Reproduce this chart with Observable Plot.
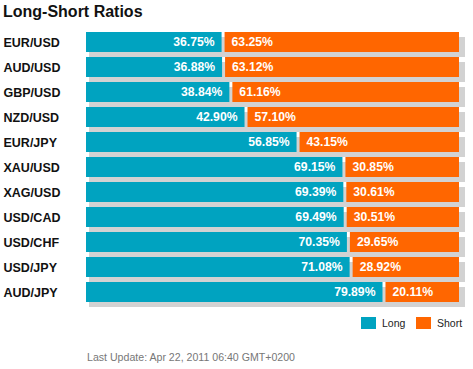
<!DOCTYPE html>
<html>
<head>
<meta charset="utf-8">
<script src="https://cdn.jsdelivr.net/npm/d3@7"></script>
<script src="https://cdn.jsdelivr.net/npm/@observablehq/plot@0.6"></script>
<style>
  html, body { margin: 0; padding: 0; background: #fff; }
  body { width: 473px; height: 369px; position: relative; overflow: hidden; font-family: "Liberation Sans", Arial, sans-serif; }
  #title { position: absolute; left: 3px; top: 3px; font-size: 16px; font-weight: bold; color: #111; line-height: 18px; }
  #chart { position: absolute; left: 0; top: 0; }
  .sw { position: absolute; width: 15px; height: 12px; }
  .lg { position: absolute; font-size: 10.5px; color: #222; line-height: 12px; }
  #footer { position: absolute; left: 87px; top: 351px; font-size: 10.6px; color: #777; line-height: 12px; }
</style>
</head>
<body>
<div id="chart"></div>
<div id="title">Long-Short Ratios</div>
<div class="sw" style="left:361px;top:317px;background:#00A3C0"></div>
<div class="lg" style="left:382px;top:317px">Long</div>
<div class="sw" style="left:416px;top:317px;background:#FF6600"></div>
<div class="lg" style="left:437px;top:317px">Short</div>
<div id="footer">Last Update: Apr 22, 2011 06:40 GMT+0200</div>
<script>
const pairs = ["EUR/USD","AUD/USD","GBP/USD","NZD/USD","EUR/JPY","XAU/USD","XAG/USD","USD/CAD","USD/CHF","USD/JPY","AUD/JPY"];
const longPct = [36.75, 36.88, 38.84, 42.90, 56.85, 69.15, 69.39, 69.49, 70.35, 71.08, 79.89];
const shortPct = [63.25, 63.12, 61.16, 57.10, 43.15, 30.85, 30.61, 30.51, 29.65, 28.92, 20.11];

const rows = pairs.map((p, i) => ({pair: p, long: longPct[i], short: shortPct[i]}));
const font = "Liberation Sans, Arial, sans-serif";

const chart = Plot.plot({
  width: 473,
  height: 369,
  marginLeft: 86,
  marginRight: 14,
  marginTop: 29.5,
  marginBottom: 64.5,
  style: {fontFamily: font, background: "transparent"},
  x: {domain: [0, 100], axis: null},
  y: {domain: pairs, paddingInner: 0.2, paddingOuter: 0.1, label: null},
  marks: [
    Plot.barX(rows, {x1: 0, x2: 100, y: "pair", fill: "#D2D2D2", dx: 3, dy: 5, insetRight: -3}),
    Plot.barX(rows, {x1: 0, x2: "long", y: "pair", fill: "#00A3C0", insetRight: 1.5}),
    Plot.barX(rows, {x1: "long", x2: 100, y: "pair", fill: "#FF6600", insetLeft: 1.5}),
    Plot.text(rows, {x: "long", y: "pair", text: d => d.long.toFixed(2) + "%", textAnchor: "end", dx: -9, fill: "white", fontSize: 12.2, fontWeight: "bold"}),
    Plot.text(rows, {x: "long", y: "pair", text: d => d.short.toFixed(2) + "%", textAnchor: "start", dx: 8, fill: "white", fontSize: 12.2, fontWeight: "bold"}),
    Plot.axisY({tickSize: 0, tickPadding: 0, textAnchor: "start", dx: -83, fontSize: 12.5, fontWeight: "bold", fill: "#111", label: null})
  ]
});
document.getElementById("chart").appendChild(chart);
</script>
</body>
</html>
